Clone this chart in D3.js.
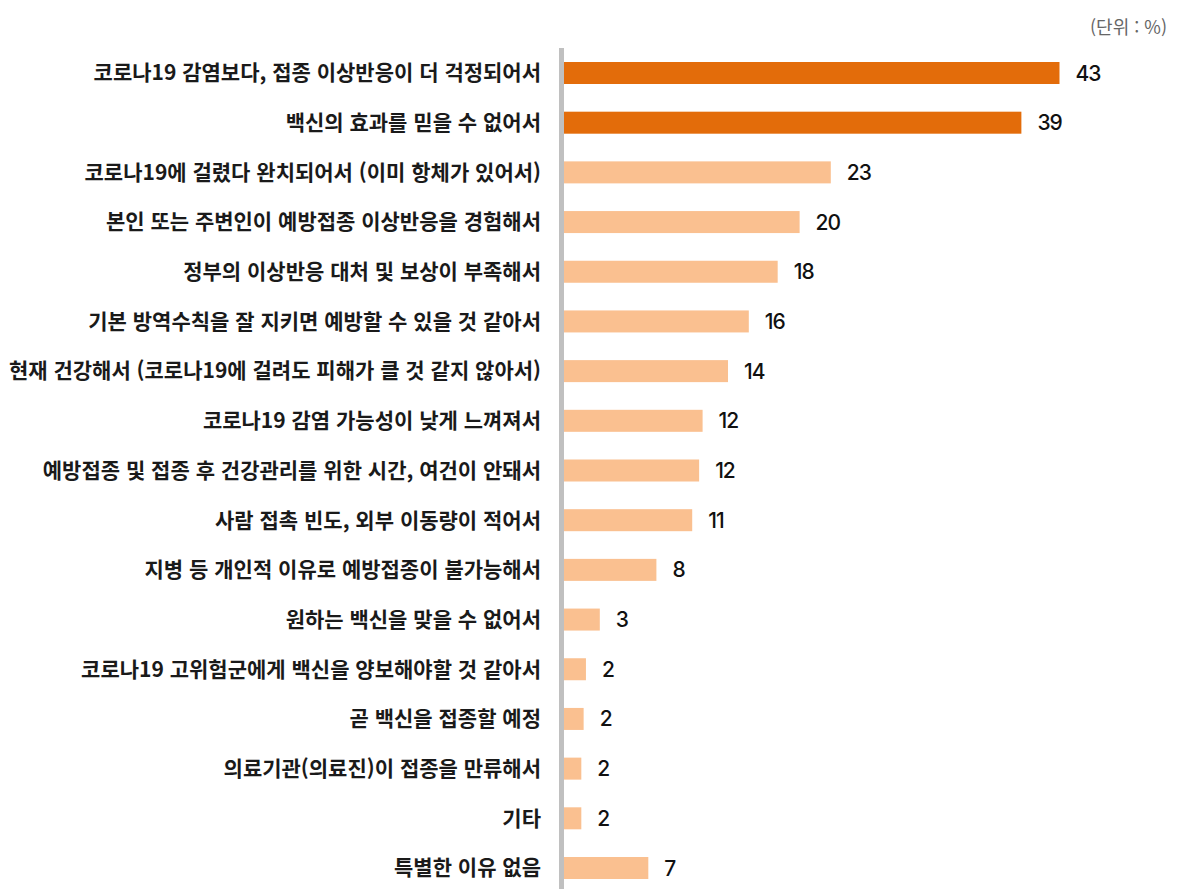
<!DOCTYPE html>
<html lang="ko">
  <head>
    <meta charset="utf-8">
    <title>백신 미접종 이유</title>
    <script src="https://cdn.jsdelivr.net/npm/d3@7"></script>
    <style>
      body { margin: 0; background: #fff; }
      svg { display: block; }
    </style>
  </head>
  <body>
    <script>
     // reasons (top to bottom)
     let categories = [
       "코로나19 감염보다, 접종 이상반응이 더 걱정되어서",
       "백신의 효과를 믿을 수 없어서",
       "코로나19에 걸렸다 완치되어서 (이미 항체가 있어서)",
       "본인 또는 주변인이 예방접종 이상반응을 경험해서",
       "정부의 이상반응 대처 및 보상이 부족해서",
       "기본 방역수칙을 잘 지키면 예방할 수 있을 것 같아서",
       "현재 건강해서 (코로나19에 걸려도 피해가 클 것 같지 않아서)",
       "코로나19 감염 가능성이 낮게 느껴져서",
       "예방접종 및 접종 후 건강관리를 위한 시간, 여건이 안돼서",
       "사람 접촉 빈도, 외부 이동량이 적어서",
       "지병 등 개인적 이유로 예방접종이 불가능해서",
       "원하는 백신을 맞을 수 없어서",
       "코로나19 고위험군에게 백신을 양보해야할 것 같아서",
       "곧 백신을 접종할 예정",
       "의료기관(의료진)이 접종을 만류해서",
       "기타",
       "특별한 이유 없음"
     ];
     // bar lengths (unrounded)
     let values = [42.9, 39.6, 23.1, 20.4, 18.5, 16.0, 14.2, 12.0, 11.7, 11.1, 8.0, 3.1, 1.9, 1.7, 1.5, 1.5, 7.3];
     // printed labels
     let valueLabels = ["43", "39", "23", "20", "18", "16", "14", "12", "12", "11", "8", "3", "2", "2", "2", "2", "7"];
     let highlighted = [true, true, false, false, false, false, false, false, false, false, false, false, false, false, false, false, false];

     let w = 1178, h = 889;
     let svg = d3.select("body").append("svg")
                 .attr("width", w)
                 .attr("height", h);

     let x = d3.scaleLinear().domain([0, 50]).range([564, 564 + 577.5]);
     let y = d3.scalePoint().domain(categories).range([73, 868]);
     let barH = 22;

     // bars
     svg.selectAll("rect.bar")
        .data(categories)
        .enter()
        .append("rect")
        .attr("class", "bar")
        .attr("x", x(0))
        .attr("y", d => y(d) - barH / 2)
        .attr("width", (d, i) => x(values[i]) - x(0))
        .attr("height", barH)
        .attr("fill", (d, i) => highlighted[i] ? "#E36C0A" : "#FAC090");

     // vertical axis line
     svg.append("line")
        .attr("x1", 561.5).attr("x2", 561.5)
        .attr("y1", 48).attr("y2", h)
        .attr("stroke", "#c0c0c0")
        .attr("stroke-width", 5);

     // category labels
     svg.selectAll("text.cat")
        .data(categories)
        .enter()
        .append("text")
        .attr("class", "cat")
        .attr("x", 541)
        .attr("y", d => y(d))
        .attr("dy", "0.35em")
        .attr("text-anchor", "end")
        .attr("font-family", "'Noto Sans CJK KR', 'Noto Sans', sans-serif")
        .attr("font-size", "21px")
        .attr("font-weight", 700)
        .attr("fill", "#1a1a1a")
        .text(d => d);

     // value labels
     svg.selectAll("text.val")
        .data(categories)
        .enter()
        .append("text")
        .attr("class", "val")
        .attr("x", (d, i) => x(values[i]) + 16)
        .attr("y", d => y(d))
        .attr("dy", "0.36em")
        .attr("font-family", "Inter, 'Noto Sans', sans-serif")
        .attr("font-size", "21px")
        .attr("font-weight", 500)
        .attr("letter-spacing", "-1px")
        .attr("fill", "#111")
        .text((d, i) => valueLabels[i]);

     // unit note
     svg.append("text")
        .attr("x", 1167)
        .attr("y", 28)
        .attr("dy", "0.35em")
        .attr("text-anchor", "end")
        .attr("font-family", "'Noto Sans CJK KR', sans-serif")
        .attr("font-size", "18px")
        .attr("fill", "#666")
        .text("(단위 : %)");
    </script>
  </body>
</html>
